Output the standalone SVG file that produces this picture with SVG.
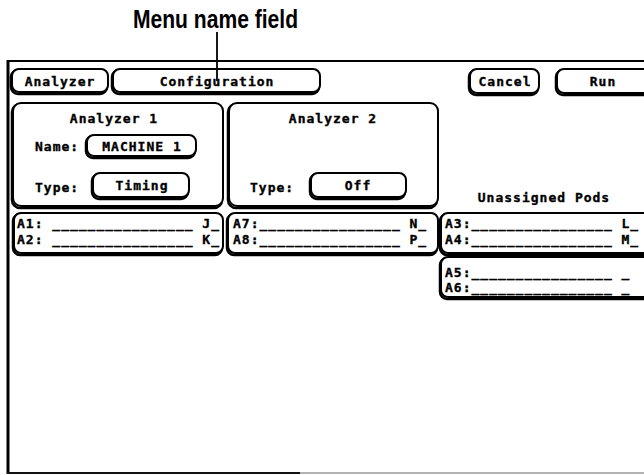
<svg xmlns="http://www.w3.org/2000/svg" width="644" height="475" viewBox="0 0 644 475">
<style>
.t{font-family:"DejaVu Sans Mono","Liberation Mono",monospace;font-weight:bold;font-size:13px;letter-spacing:1px;fill:#000;stroke:#000;stroke-width:0.35}
.c{text-anchor:middle}
.b{fill:#fff;stroke:#000;stroke-width:2}
.s{fill:none;stroke:#000;stroke-width:2.5}
.lead{font-family:"Liberation Sans",Arial,sans-serif;font-weight:bold;font-size:25px;fill:#000}
</style>
<rect width="644" height="475" fill="#fff"/>
<g id="callout">
<text class="lead" x="133" y="28" textLength="165" lengthAdjust="spacingAndGlyphs">Menu name field</text>
</g>
<g id="frame">
<line x1="7" y1="61" x2="644" y2="61" stroke="#000" stroke-width="2"/>
<line x1="8" y1="60" x2="8" y2="474" stroke="#000" stroke-width="3"/>
<line x1="7" y1="473" x2="300" y2="473" stroke="#111" stroke-width="2"/>
<line x1="300" y1="473" x2="644" y2="473" stroke="#999" stroke-width="1.5"/>
</g>
<g id="btn-analyzer">
<rect class="s" x="11" y="70" width="96" height="24" rx="7"/>
<rect class="b" x="12" y="69" width="96" height="23" rx="7"/>
<text class="t c" x="60" y="86">Analyzer</text>
</g>
<g id="btn-configuration">
<rect class="s" x="112" y="70" width="207" height="24" rx="7"/>
<rect class="b" x="113" y="69" width="207" height="23" rx="7"/>
<text class="t c" x="217" y="86">Configuration</text>
</g>
<g id="btn-cancel">
<rect class="s" x="469" y="70" width="69" height="25" rx="7"/>
<rect class="b" x="470" y="69" width="69" height="24" rx="7"/>
<text class="t c" x="505" y="86">Cancel</text>
</g>
<g id="btn-run">
<rect class="s" x="556" y="70" width="100" height="25" rx="7"/>
<rect class="b" x="557" y="69" width="100" height="24" rx="7"/>
<text class="t c" x="603" y="86">Run</text>
</g>
<g id="analyzer1">
<rect class="s" x="12" y="104" width="210" height="104" rx="8"/>
<rect class="b" x="13" y="103" width="210" height="103" rx="8"/>
<text class="t c" x="114" y="123">Analyzer 1</text>
<text class="t" x="35" y="151">Name:</text>
<rect class="s" x="86" y="136" width="109" height="22" rx="7"/>
<rect class="b" x="87" y="135" width="109" height="21" rx="7"/>
<text class="t c" x="142" y="151">MACHINE 1</text>
<text class="t" x="35" y="192">Type:</text>
<rect class="s" x="92" y="174" width="96" height="25" rx="7"/>
<rect class="b" x="93" y="173" width="96" height="24" rx="7"/>
<text class="t c" x="142" y="190">Timing</text>
</g>
<g id="analyzer2">
<rect class="s" x="228" y="104" width="209" height="104" rx="8"/>
<rect class="b" x="229" y="103" width="209" height="103" rx="8"/>
<text class="t c" x="333" y="123">Analyzer 2</text>
<text class="t" x="250" y="192">Type:</text>
<rect class="s" x="310" y="174" width="95" height="25" rx="7"/>
<rect class="b" x="311" y="173" width="95" height="24" rx="7"/>
<text class="t c" x="358" y="190">Off</text>
</g>
<g id="pods-a1a2">
<rect class="s" x="13" y="214" width="209" height="41" rx="7"/>
<rect class="b" x="14" y="213" width="209" height="40" rx="7"/>
<text class="t" x="17" y="228">A1: ________________ J_</text>
<text class="t" x="17" y="244">A2: ________________ K_</text>
</g>
<g id="pods-a7a8">
<rect class="s" x="227" y="214" width="210" height="41" rx="7"/>
<rect class="b" x="228" y="213" width="210" height="40" rx="7"/>
<text class="t" x="233" y="228">A7:________________ N_</text>
<text class="t" x="233" y="244">A8:________________ P_</text>
</g>
<g id="unassigned">
<text class="t c" x="544" y="202">Unassigned Pods</text>
<rect class="s" x="440" y="214" width="215" height="41" rx="7"/>
<rect class="b" x="441" y="213" width="215" height="40" rx="7"/>
<text class="t" x="445" y="228">A3:________________ L_</text>
<text class="t" x="445" y="244">A4:________________ M_</text>
<rect class="s" x="440" y="258" width="215" height="41" rx="7"/>
<rect class="b" x="441" y="257" width="215" height="40" rx="7"/>
<text class="t" x="445" y="277">A5:________________  _</text>
<text class="t" x="445" y="292">A6:________________  _</text>
</g>
<g id="connectors">
<line x1="217" y1="32" x2="217" y2="81" stroke="#000" stroke-width="1.8"/>
</g>
</svg>
